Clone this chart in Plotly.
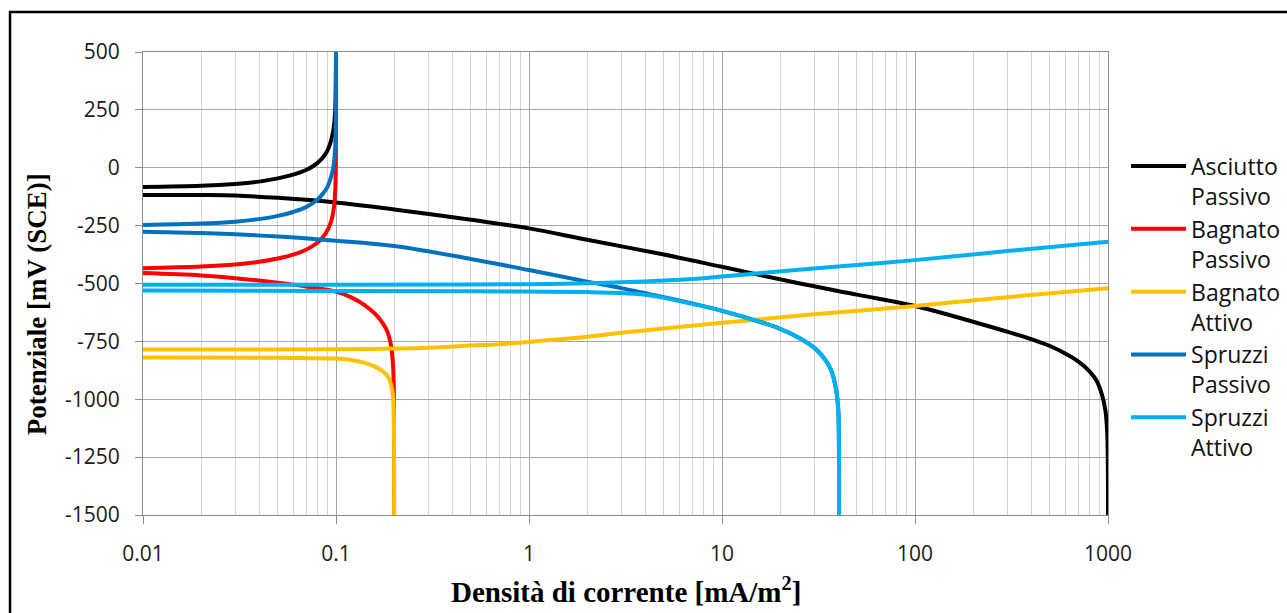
import plotly.graph_objects as go

# ---------------- data ----------------
series_names = ["Asciutto<br>Passivo", "Bagnato<br>Passivo", "Bagnato<br>Attivo",
                "Spruzzi<br>Passivo", "Spruzzi<br>Attivo"]
series_colors = ["#000000", "#FF0000", "#FFC000", "#0070C0", "#00B0F0"]

# Asciutto Passivo
asc_an_x = [0.01, 0.02, 0.03, 0.04, 0.05, 0.06, 0.07, 0.08, 0.085, 0.09, 0.093, 0.095,
            0.097, 0.098, 0.099, 0.0995, 0.0998, 0.1]
asc_an_y = [-83, -78, -70, -60, -46, -30, -10, 20, 42, 72, 102, 128,
            165, 195, 245, 300, 370, 500]
asc_ca_x = [0.01, 0.02, 0.03, 0.05, 0.1, 0.2, 0.5, 1, 2, 5, 10, 25, 50, 100, 200, 300,
            400, 500, 600, 700, 800, 870, 930, 970, 990, 998, 1000]
asc_ca_y = [-118, -118, -120, -130, -150, -180, -225, -262, -311, -375, -428, -499, -548,
            -597, -665, -708, -740, -770, -802, -836, -878, -918, -980, -1050, -1140,
            -1280, -1500]

# Bagnato Passivo
bp_an_x = [0.01, 0.02, 0.03, 0.04, 0.05, 0.06, 0.07, 0.08, 0.085, 0.09, 0.093, 0.095,
           0.097, 0.098, 0.099, 0.0995, 0.0998, 0.0999, 0.1]
bp_an_y = [-434, -427, -418, -406, -392, -375, -354, -324, -302, -272, -246, -222,
           -185, -156, -106, -56, 10, 60, 500]
bp_ca_x = [0.01, 0.02, 0.03, 0.05, 0.07, 0.1, 0.12, 0.14, 0.16, 0.175, 0.185, 0.192,
           0.196, 0.198, 0.199, 0.1995, 0.2]
bp_ca_y = [-455, -465, -477, -497, -513, -535, -560, -592, -632, -672, -710, -760,
           -820, -870, -930, -990, -1500]

# Bagnato Attivo
ba_an_x = [0.01, 0.05, 0.1, 0.15, 0.2, 0.3, 0.5, 0.7, 1, 2, 3, 5, 10, 30, 100, 300, 1000]
ba_an_y = [-785, -785, -784, -783, -781, -777, -768, -762, -752, -730, -713, -694, -670,
           -633, -597, -559, -520]
ba_ca_x = [0.01, 0.05, 0.1, 0.12, 0.144, 0.16, 0.175, 0.185, 0.192, 0.196, 0.198,
           0.1995, 0.2]
ba_ca_y = [-820, -821, -824, -830, -845, -860, -880, -900, -930, -965, -1000, -1080, -1500]

# Spruzzi Passivo
sp_an_x = [0.01, 0.02, 0.03, 0.04, 0.05, 0.06, 0.07, 0.08, 0.085, 0.09, 0.093, 0.095,
           0.097, 0.098, 0.099, 0.0995, 0.0998, 0.1]
sp_an_y = [-247, -241, -233, -222, -208, -191, -170, -138, -115, -85, -55, -30,
           5, 35, 85, 140, 210, 500]
sp_ca_x = [0.01, 0.02, 0.05, 0.1, 0.2, 0.5, 1, 2, 3, 5, 7, 10, 15, 20, 25, 30, 34, 37,
           39, 40, 40.3, 40.4]
sp_ca_y = [-276, -282, -297, -315, -338, -394, -442, -492, -520, -559, -586, -618, -660,
           -696, -734, -777, -825, -880, -958, -1040, -1150, -1500]

# Spruzzi Attivo
sa_an_x = [0.01, 0.1, 0.5, 1, 2, 3, 5, 7.7, 10, 25, 50, 100, 300, 1000]
sa_an_y = [-505, -505, -504, -503, -499, -495, -487, -478, -470, -441, -420, -399, -360, -320]
sa_ca_x = [0.01, 0.1, 0.5, 1, 2, 3, 4, 5, 7, 10, 15, 20, 25, 30, 34, 37, 39, 40, 40.3, 40.4]
sa_ca_y = [-530, -532, -534, -535, -537, -541, -549, -562, -588, -618, -660, -696, -734,
           -777, -825, -880, -958, -1040, -1150, -1500]

x_tickvals = [0.01, 0.1, 1, 10, 100, 1000]
x_ticktext = ["0.01", "0.1", "1", "10", "100", "1000"]
y_tickvals = [500, 250, 0, -250, -500, -750, -1000, -1250, -1500]
y_ticktext = ["500", "250", "0", "-250", "-500", "-750", "-1000", "-1250", "-1500"]

curves = [
    [(asc_an_x, asc_an_y), (asc_ca_x, asc_ca_y)],
    [(bp_an_x, bp_an_y), (bp_ca_x, bp_ca_y)],
    [(ba_an_x, ba_an_y), (ba_ca_x, ba_ca_y)],
    [(sp_an_x, sp_an_y), (sp_ca_x, sp_ca_y)],
    [(sa_an_x, sa_an_y), (sa_ca_x, sa_ca_y)],
]

# ---------------- figure ----------------
fig = go.Figure()
for name, color, pair in zip(series_names, series_colors, curves):
    for k, (xs, ys) in enumerate(pair):
        fig.add_trace(go.Scatter(
            x=xs, y=ys, mode="lines", name=name,
            legendgroup=name, showlegend=(k == 0),
            line=dict(color=color, width=4, shape="spline", smoothing=1.0),
            hoverinfo="skip",
        ))

tick_font = dict(family="Open Sans, Arial, sans-serif", size=21, color="#1a1a1a")
xtitle_font = dict(family="Liberation Serif, Times New Roman, serif", size=29,
                   color="#000000", weight="bold")
ytitle_font = dict(family="Liberation Serif, Times New Roman, serif", size=27,
                   color="#000000", weight="bold")

fig.update_layout(
    width=1287, height=613,
    margin=dict(l=143, r=179, t=52, b=98, autoexpand=False),
    paper_bgcolor="white", plot_bgcolor="white",
    showlegend=True,
    legend=dict(
        x=1.0187, y=0.80, xanchor="left", yanchor="top",
        font=dict(family="Open Sans, Arial, sans-serif", size=23, color="#111111"),
        valign="top", itemwidth=55, tracegroupgap=0,
        bgcolor="rgba(0,0,0,0)",
    ),
    xaxis=dict(
        type="log", range=[-2, 3],
        tickvals=x_tickvals, ticktext=x_ticktext,
        tickfont=tick_font, ticks="outside", ticklen=8, tickcolor="#8c8c8c",
        ticklabelstandoff=12,
        showgrid=True, gridcolor="#a6a6a6", gridwidth=1,
        minor=dict(dtick="D1", showgrid=True, gridcolor="#d4d4d4", gridwidth=1, ticks=""),
        showline=True, linecolor="#8c8c8c", linewidth=1, mirror=True,
        zeroline=False, automargin=False,
    ),
    yaxis=dict(
        range=[-1500, 500], tickvals=y_tickvals, ticktext=y_ticktext,
        tickfont=tick_font, ticks="outside", ticklen=7, tickcolor="#8c8c8c",
        ticklabelstandoff=11,
        showgrid=True, gridcolor="#a6a6a6", gridwidth=1,
        showline=True, linecolor="#8c8c8c", linewidth=1, mirror=True,
        zeroline=False, automargin=False,
    ),
    annotations=[
        dict(text="<b>Densità di corrente [mA/m<sup>2</sup>]</b>", xref="paper", yref="paper",
             x=0.5, y=-0.162, xanchor="center", yanchor="middle",
             showarrow=False, font=xtitle_font),
        dict(text="<b>Potenziale [mV (SCE)]</b>", xref="paper", yref="paper",
             x=-0.109, y=0.455, xanchor="center", yanchor="middle", textangle=-90,
             showarrow=False, font=ytitle_font),
    ],
    shapes=[
        dict(type="rect", xref="paper", yref="paper",
             x0=-0.1378, x1=1.3, y0=-0.3, y1=1.0864,
             line=dict(color="black", width=2.5), fillcolor="rgba(0,0,0,0)", layer="below"),
    ],
)

fig.write_html("out.html")
